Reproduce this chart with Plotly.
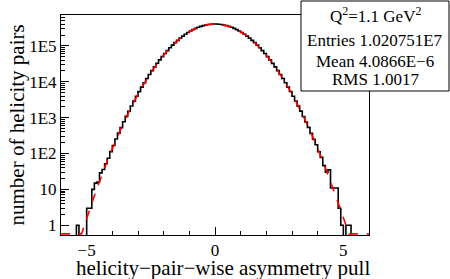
import numpy as np
import plotly.graph_objects as go

# ---- data ----
bin_low = -6.0
bin_width = 0.1
counts = [
    0, 0, 0, 0, 0, 0, 1, 0, 0, 0,
    3, 3, 10, 15, 16, 29, 36, 52, 74, 113,
    168, 255, 371, 528, 765, 1083, 1509, 2112, 2889, 3951,
    5309, 7104, 9372, 12291, 15902, 20430, 25921, 32640, 40588, 50101,
    61093, 73902, 88341, 104731, 122760, 142631, 163897, 186671, 210280, 234742,
    259231, 283672, 307098, 329411, 349583, 367570, 382391, 394130, 401930, 406090,
    405960, 402061, 393998, 382520, 367447, 349710, 329289, 307215, 283561, 259340,
    234637, 210366, 186580, 163982, 142545, 122834, 104657, 88410, 73829, 61148,
    50043, 40640, 32594, 25948, 20401, 15925, 12268, 9393, 7087, 5326,
    3935, 2902, 2098, 1522, 1072, 757, 537, 364, 249, 175,
    112, 78, 46, 30, 35, 11, 11, 11, 3, 1,
    0, 1, 1, 0, 0, 0, 0, 0, 0, 0,
]
# Gaussian fit parameters
fit_constant = 406500.0
fit_mean = 0.0
fit_sigma = 1.0017

y_tickvals = [1, 10, 100, 1000, 10000, 100000]
y_ticktext = ["1", "10", "1E2", "1E3", "1E4", "1E5"]
x_tickvals = [-5, 0, 5]
x_ticktext = ["\u22125", "0", "5"]

stats_lines = [
    "Q<sup>2</sup>=1.1 GeV<sup>2</sup>",
    "Entries 1.020751E7",
    "Mean 4.0866E\u22126",
    "RMS 1.0017",
]

# ---- build ----
counts = np.array(counts, dtype=float)
nb = len(counts)
edges = bin_low + bin_width * np.arange(nb + 1)
ylog_min, ylog_max = -0.27, 5.86
floor_val = 1e-3
hx = edges
hy = np.append(np.where(counts > 0, counts, floor_val), floor_val)

fx = np.linspace(edges[0], edges[-1], 601)
fy = fit_constant * np.exp(-0.5 * ((fx - fit_mean) / fit_sigma) ** 2)
fy = np.maximum(fy, 10 ** (ylog_min + 0.03))

font = "Liberation Serif"
fig = go.Figure()
fig.add_trace(go.Scatter(x=hx, y=hy, mode="lines", line=dict(shape="hv", color="black", width=1.6),
                         showlegend=False, hoverinfo="skip"))
fig.add_trace(go.Scatter(x=fx, y=fy, mode="lines", line=dict(color="#ff0000", width=1.6, dash="dash"),
                         showlegend=False, hoverinfo="skip"))

L, R, T, B = 61, 81, 15, 44
W, H = 450, 279
pw, ph = W - L - R, H - T - B

minor_y = []
for k in range(0, 6):
    for m in range(2, 10):
        v = m * 10 ** k
        if np.log10(v) <= ylog_max:
            minor_y.append(v)

fig.update_layout(
    width=W, height=H, margin=dict(l=L, r=R, t=T, b=B),
    paper_bgcolor="white", plot_bgcolor="white",
    font=dict(family=font, color="black"),
    xaxis=dict(range=[-6, 6], showline=True, mirror=True, linecolor="black", linewidth=1,
               showgrid=False, zeroline=False, ticks="inside", ticklen=8, tickcolor="black",
               tickvals=x_tickvals, ticktext=x_ticktext, tickfont=dict(size=17, family=font),
               minor=dict(ticks="inside", ticklen=4, dtick=1, tick0=0, tickcolor="black", showgrid=False)),
    yaxis=dict(type="log", range=[ylog_min, ylog_max], showline=True, mirror=True, linecolor="black",
               linewidth=1, showgrid=False, zeroline=False, ticks="inside", ticklen=8, tickcolor="black",
               tickvals=y_tickvals, ticktext=y_ticktext, tickfont=dict(size=17, family=font),
               minor=dict(ticks="inside", ticklen=4, tickmode="array", tickvals=minor_y,
                          tickcolor="black", showgrid=False)),
)

fig.add_annotation(text="helicity\u2212pair\u2212wise asymmetry pull", xref="paper", yref="paper",
                   x=(372 - L) / pw, y=(H - B - 268) / ph, xanchor="right", yanchor="middle",
                   showarrow=False, font=dict(size=21, family=font))
fig.add_annotation(text="number of helicity pairs", xref="paper", yref="paper",
                   x=(16 - L) / pw, y=(H - B - 23) / ph, xanchor="center", yanchor="top",
                   textangle=-90, showarrow=False, font=dict(size=21, family=font))

bx0, bx1, by0, by1 = 301, 449, 1, 91
fig.add_shape(type="rect", xref="paper", yref="paper",
              x0=(bx0 - L) / pw, x1=(bx1 - L) / pw,
              y0=(H - B - by1) / ph, y1=(H - B - by0) / ph,
              fillcolor="white", line=dict(color="black", width=1), layer="above")
line_y = [15, 40, 61, 80]
for txt, yy in zip(stats_lines, line_y):
    fig.add_annotation(text=txt, xref="paper", yref="paper",
                       x=((bx0 + bx1) / 2 - L) / pw, y=(H - B - yy) / ph,
                       xanchor="center", yanchor="middle", showarrow=False,
                       font=dict(size=17, family=font))

fig.write_html("out.html", config={"displayModeBar": False},
               post_script="document.body.style.margin='0';document.body.style.overflow='hidden';")
